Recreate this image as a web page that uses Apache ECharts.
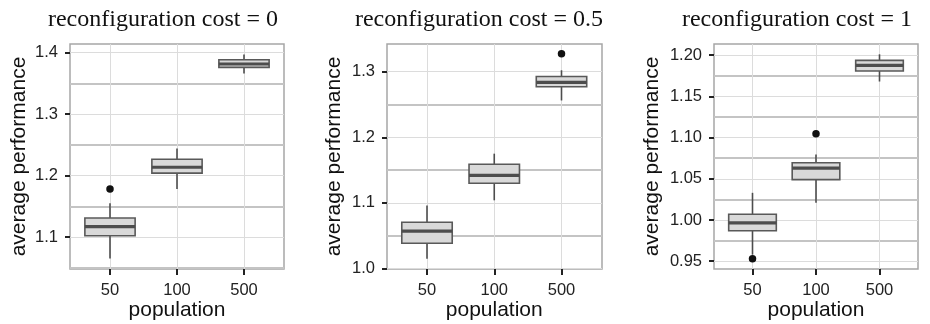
<!DOCTYPE html>
<html>
<head>
<meta charset="utf-8">
<script src="https://cdn.jsdelivr.net/npm/echarts@6/dist/echarts.min.js"></script>
<style>
  html, body { margin: 0; padding: 0; background: #fff; }
  #chart { width: 930px; height: 324px; }
</style>
</head>
<body>
<div id="chart"></div>
<script>
// data
const categories = ['50', '100', '500']
const titles = ['reconfiguration cost = 0', 'reconfiguration cost = 0.5', 'reconfiguration cost = 1']

// each box: [low whisker, Q1, median, Q3, high whisker], one per category
const boxesCost0 = [
  [1.065, 1.102, 1.117, 1.131, 1.155],
  [1.178, 1.204, 1.2135, 1.2265, 1.244],
  [1.366, 1.376, 1.3815, 1.3885, 1.397],
]
const boxesCost05 = [
  [1.015, 1.0385, 1.057, 1.0705, 1.096],
  [1.104, 1.13, 1.142, 1.159, 1.175],
  [1.256, 1.277, 1.2835, 1.2925, 1.302],
]
const boxesCost1 = [
  [0.958, 0.987, 0.9965, 1.007, 1.033],
  [1.021, 1.049, 1.063, 1.0695, 1.0795],
  [1.168, 1.1807, 1.1875, 1.1936, 1.201],
]
// outliers: [category index, value]
const outliersCost0 = [[0, 1.178]]
const outliersCost05 = [[2, 1.327]]
const outliersCost1 = [[0, 0.953], [1, 1.1045]]

// y ranges and tick labels
const yRanges = [[1.048, 1.414], [0.9994, 1.342], [0.9406, 1.2135]]
const yMajor = [[1.1, 1.2, 1.3, 1.4], [1.0, 1.1, 1.2, 1.3], [0.95, 1.0, 1.05, 1.1, 1.15, 1.2]]
const yMinor = [[1.05, 1.15, 1.25, 1.35], [1.05, 1.15, 1.25], [0.975, 1.025, 1.075, 1.125, 1.175]]
const yDigits = [1, 1, 2]

const panels = [
  { boxes: boxesCost0, outliers: outliersCost0 },
  { boxes: boxesCost05, outliers: outliersCost05 },
  { boxes: boxesCost1, outliers: outliersCost1 },
]

// layout of each panel: frame grid and inner grid spanning category centres
const frames = [
  { left: 70, width: 214, inLeft: 110, inWidth: 134, nameGap: 40, titleX: 158 },
  { left: 387, width: 215, inLeft: 427, inWidth: 134.5, nameGap: 42, titleX: 474 },
  { left: 714, width: 204, inLeft: 752.5, inWidth: 127, nameGap: 51, titleX: 792 },
]
const TOP = 44
const HEIGHT = 225
const sans = 'Liberation Sans, Arial, sans-serif'

const chart = echarts.init(document.getElementById('chart'), null, { renderer: 'canvas' })

const renderBox = (params, api) => {
  const x = api.value(0)
  const lo = api.coord([x, api.value(1)])
  const q1 = api.coord([x, api.value(2)])
  const md = api.coord([x, api.value(3)])
  const q3 = api.coord([x, api.value(4)])
  const hi = api.coord([x, api.value(5)])
  const w = api.size([1, 0])[0] * 0.75
  const cx = lo[0]
  return {
    type: 'group',
    children: [
      {
        type: 'line',
        shape: { x1: cx, y1: lo[1], x2: cx, y2: hi[1] },
        style: { stroke: '#4d4d4d', lineWidth: 1.6 },
      },
      {
        type: 'rect',
        shape: { x: cx - w / 2, y: q3[1], width: w, height: q1[1] - q3[1] },
        style: { fill: '#d9d9d9', stroke: '#595959', lineWidth: 1.6 },
      },
      {
        type: 'line',
        shape: { x1: cx - w / 2, y1: md[1], x2: cx + w / 2, y2: md[1] },
        style: { stroke: '#4d4d4d', lineWidth: 3.2 },
      },
    ],
  }
}

const grid = []
const xAxis = []
const yAxis = []
const series = []
const title = []

frames.forEach((f, i) => {
  // frame grid
  grid.push({ left: f.left, width: f.width, top: TOP, height: HEIGHT, show: true,
    outerBoundsMode: 'none', containLabel: false,
    borderColor: '#a6a6a6', borderWidth: 1.5, backgroundColor: '#fff', z: 0 })
  // inner grid
  grid.push({ left: f.inLeft, width: f.inWidth, top: TOP, height: HEIGHT, z: 1,
    outerBoundsMode: 'none', containLabel: false })

  const gA = i * 2
  const gB = i * 2 + 1
  const [ymin, ymax] = yRanges[i]

  xAxis.push({ type: 'value', gridIndex: gA, show: false, min: 0, max: 1 })
  xAxis.push({
    type: 'category', gridIndex: gB, data: categories, boundaryGap: false,
    axisLine: { show: false },
    axisTick: { show: true, length: 6, lineStyle: { color: '#222', width: 2 } },
    axisLabel: { color: '#222', fontSize: 16.5, fontFamily: sans, margin: 13 },
    splitLine: { show: true, lineStyle: { color: '#dcdcdc', width: 1 } },
    name: 'population', nameLocation: 'middle', nameGap: 31, nameMoveOverlap: false,
    nameTextStyle: { color: '#111', fontSize: 21, fontFamily: sans },
  })

  // major y axis: labels, ticks, thin lines
  yAxis.push({
    type: 'value', gridIndex: gA, min: ymin, max: ymax,
    axisLine: { show: false },
    axisTick: { show: true, length: 5, customValues: yMajor[i], lineStyle: { color: '#222', width: 2 } },
    axisLabel: { color: '#222', fontSize: 16.5, fontFamily: sans, margin: 12, customValues: yMajor[i],
      formatter: (v) => v.toFixed(yDigits[i]) },
    splitLine: { show: true, lineStyle: { color: '#dcdcdc', width: 1 } },
    name: 'average performance', nameLocation: 'middle', nameGap: f.nameGap, nameMoveOverlap: false,
    nameTextStyle: { color: '#111', fontSize: 21, fontFamily: sans },
  })
  // minor y axis: thicker lines between labels
  yAxis.push({
    type: 'value', gridIndex: gA, min: ymin, max: ymax, position: 'left',
    axisLine: { show: false },
    axisTick: { show: false, customValues: yMinor[i] },
    axisLabel: { show: false, customValues: yMinor[i] },
    splitLine: { show: true, lineStyle: { color: '#c4c4c4', width: 2 } },
  })
  // hidden y axis of the inner grid
  yAxis.push({ type: 'value', gridIndex: gB, min: ymin, max: ymax, show: false,
    splitLine: { show: false } })

  const yB = i * 3 + 2
  const p = panels[i]
  series.push({
    type: 'custom', xAxisIndex: gB, yAxisIndex: yB, z: 5,
    renderItem: renderBox,
    encode: { x: 0, y: [1, 2, 3, 4, 5] },
    data: p.boxes.map((b, k) => [k, ...b]),
  })
  series.push({
    type: 'scatter', xAxisIndex: gB, yAxisIndex: yB, z: 6,
    symbolSize: 7.5, itemStyle: { color: '#111', opacity: 1 },
    data: p.outliers,
  })

  title.push({
    text: titles[i], left: f.titleX, top: 3, textAlign: 'center',
    textStyle: { fontFamily: 'Liberation Serif, Times New Roman, serif', fontWeight: 'normal',
      fontSize: 24, color: '#111' },
  })
})

chart.setOption({
  animation: false,
  title,
  grid,
  xAxis,
  yAxis,
  series,
})
</script>
</body>
</html>
